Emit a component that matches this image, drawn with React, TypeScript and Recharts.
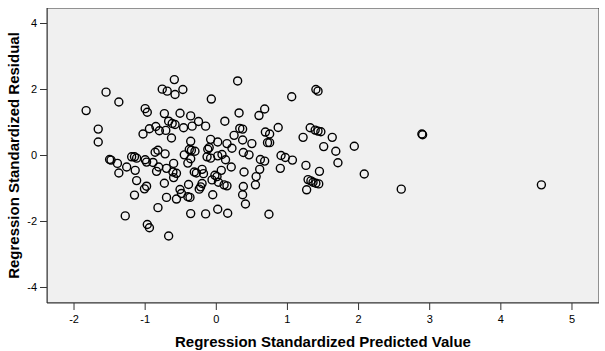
import React from "react";
import {
  ScatterChart,
  Scatter,
  XAxis,
  YAxis,
  ReferenceArea,
} from "recharts";

// standardized predicted value (x) and standardized residual (y)
const predicted = [
  -0.59, -0.76, -0.69, -0.58, -0.47, -1.55, -1.37, -1.83, -1.0, -0.97,
  -0.73, -0.51, -0.36, -0.67, -0.62, -0.58, -0.25, -1.66, -0.94, -1.03,
  -0.85, -0.8, -0.71, -0.63, -0.46, -0.34, -1.66, -0.36, -0.86, -0.82,
  -0.72, -0.45, -0.38, -0.35, -0.3, -0.36, -0.4, -1.5, -1.48, -1.39,
  -1.37, -1.26, -1.19, -1.15, -1.12, -1.14, -1.0, -0.98, -0.89, -0.81,
  -0.84, -0.7, -0.6, -0.61, -0.56, -0.6, -0.31, -0.28, -1.12, -1.15,
  -1.01, -0.98, -1.28, -0.97, -0.94, -0.82, -0.67, -0.73, -0.7, -0.56,
  -0.51, -0.49, -0.39, -0.4, -0.37, -0.36, -0.24, -0.07, -0.15, 0.12,
  -0.08, 0.02, 0.15, -0.1, -0.12, -0.13, -0.08, 0.02, 0.08, 0.13,
  0.3, 1.06, 1.4, 1.43, 0.32, 0.68, 0.6, 0.87, 0.33, 0.37,
  0.25, 0.69, 0.75, 0.72, 0.75, 0.37, 0.5, 0.22, 0.38, 0.46,
  0.62, 0.68, 0.91, 0.97, 1.07, 1.32, 1.39, 1.43, 1.47, 1.22,
  1.63, 1.51, 1.68, 1.71, 1.26, 1.45, 0.9, 0.61, 0.39, 0.21,
  0.07, -0.02, 0.01, -0.2, -0.18, 0.56, 0.55, 0.38, 0.37, 0.41,
  -0.06, -0.2, -0.22, -0.05, 0.03, 0.11, 0.15, -0.15, 0.02, 0.16,
  0.74, 1.29, 1.33, 1.36, 1.4, 1.44, 1.27, 1.94, 2.08, 2.6,
  2.89, 2.9, 4.57,
];

const residual = [
  2.3, 2.01, 1.95, 1.85, 2.0, 1.92, 1.62, 1.36, 1.42, 1.31,
  1.27, 1.28, 1.2, 1.04, 0.97, 0.94, 1.03, 0.8, 0.81, 0.65,
  0.88, 0.75, 0.76, 0.53, 0.84, 0.89, 0.41, 0.43, 0.1, 0.16,
  0.05, 0.02, 0.18, 0.16, 0.13, -0.1, -0.23, -0.12, -0.14, -0.24,
  -0.53, -0.35, -0.04, -0.04, -0.08, -0.45, -0.13, -0.2, -0.21, -0.35,
  -0.48, -0.39, -0.24, -0.5, -0.54, -0.67, -0.5, -0.53, -0.76, -1.2,
  -1.01, -0.93, -1.83, -2.09, -2.19, -1.58, -2.44, -0.84, -1.27, -1.32,
  -1.03, -1.15, -0.88, -1.25, -1.27, -1.76, -1.02, 1.71, 0.89, 1.04,
  0.49, 0.41, 0.36, 0.24, 0.19, -0.04, -0.08, -0.01, 0.03, -0.13,
  2.26, 1.78, 2.0, 1.95, 1.29, 1.41, 1.21, 0.85, 0.82, 0.8,
  0.61, 0.71, 0.65, 0.39, 0.39, 0.47, 0.36, 0.22, 0.09, 0.02,
  -0.12, -0.17, 0.0, -0.06, -0.14, 0.84, 0.77, 0.74, 0.72, 0.55,
  0.55, 0.27, 0.13, -0.22, -0.3, -0.48, -0.39, -0.42, -0.5, -0.35,
  -0.45, -0.6, -0.64, -0.42, -0.55, -0.64, -0.89, -0.94, -1.19, -1.47,
  -0.74, -0.85, -0.95, -1.19, -0.81, -0.89, -0.92, -1.77, -1.63, -1.75,
  -1.78, -0.73, -0.77, -0.81, -0.84, -0.86, -1.04, 0.28, -0.56, -1.02,
  0.65, 0.63, -0.89,
];

const xTicks = [-2, -1, 0, 1, 2, 3, 4, 5];
const yTicks = [-4, -2, 0, 2, 4];
const xDomain: [number, number] = [-2.38, 5.38];
const yDomain: [number, number] = [-4.47, 4.47];

const data = predicted.map((x, i) => ({ x, y: residual[i] }));

const font = "'Liberation Sans', Arial, sans-serif";

const Ring = (props: any) => {
  const { cx, cy } = props;
  if (cx == null || cy == null) return null;
  return <circle cx={cx} cy={cy} r={4} fill="none" stroke="#000" strokeWidth={1.4} />;
};

export default function App() {
  return (
    <div style={{ width: 605, height: 351, background: "#fff" }}>
      <style>{`body{margin:0}`}</style>
      <ScatterChart
        width={605}
        height={351}
        margin={{ top: 8, right: 6, left: 0, bottom: 0 }}
      >
        <ReferenceArea
          x1={xDomain[0]}
          x2={xDomain[1]}
          y1={yDomain[0]}
          y2={yDomain[1]}
          fill="#f0f0f0"
          fillOpacity={1}
          stroke="#333"
          strokeWidth={1}
          ifOverflow="hidden"
        />
        <XAxis
          type="number"
          dataKey="x"
          domain={xDomain}
          ticks={xTicks}
          allowDataOverflow
          height={48}
          tickSize={7}
          tickMargin={5}
          stroke="#333"
          tick={{ fill: "#000", fontSize: 11, fontFamily: font }}
          label={{
            value: "Regression Standardized Predicted Value",
            position: "insideBottom",
            offset: 4,
            style: { fontSize: 15, fontWeight: "bold", fontFamily: font, fill: "#000" },
          }}
        />
        <YAxis
          type="number"
          dataKey="y"
          domain={yDomain}
          ticks={yTicks}
          allowDataOverflow
          width={47}
          tickSize={7}
          tickMargin={3}
          stroke="#333"
          tick={{ fill: "#000", fontSize: 11, fontFamily: font }}
          label={{
            value: "Regression Standardized Residual",
            angle: -90,
            position: "insideLeft",
            offset: 14,
            style: {
              textAnchor: "middle",
              fontSize: 15,
              fontWeight: "bold",
              fontFamily: font,
              fill: "#000",
            },
          }}
        />
        <Scatter data={data} shape={Ring} isAnimationActive={false} />
      </ScatterChart>
    </div>
  );
}
